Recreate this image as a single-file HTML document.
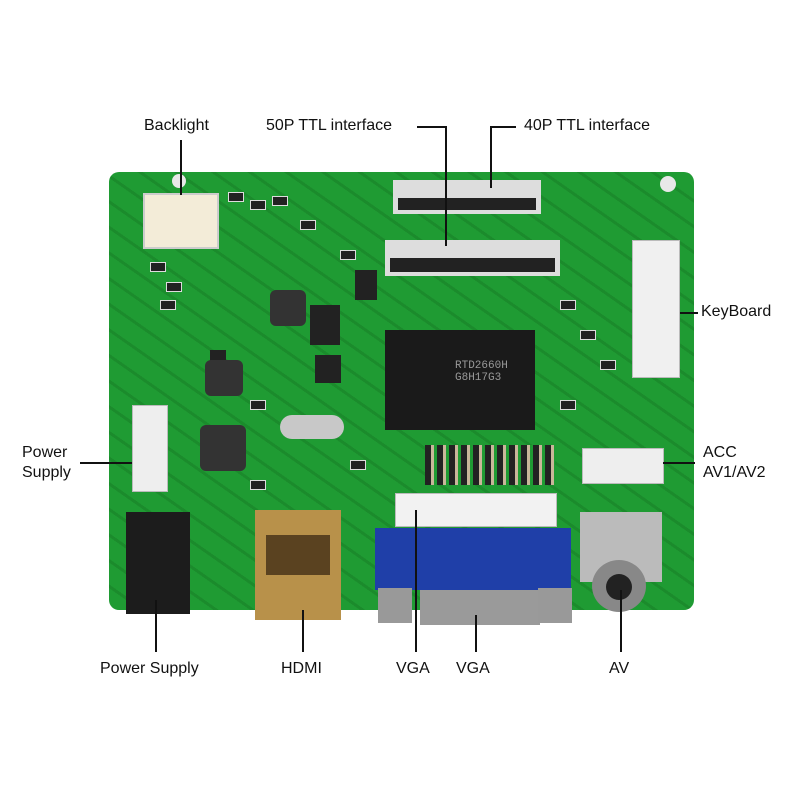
<!DOCTYPE html>
<html><head><meta charset="utf-8"><style>
body{margin:0;width:800px;height:800px;background:#fff;position:relative;overflow:hidden;font-family:"Liberation Sans",sans-serif;}
.a{position:absolute;}
.t{position:absolute;font-size:16px;color:#111;white-space:nowrap;}
.l{position:absolute;background:#111;}
.s{position:absolute;background:#222;border:1px solid #ddd;width:14px;height:8px;}
</style></head><body>
<div class="a" style="left:109px;top:172px;width:585px;height:438px;background:#1f9b33;border-radius:10px;"></div>
<div class="a" style="left:109px;top:172px;width:585px;height:438px;border-radius:10px;background:repeating-linear-gradient(35deg,transparent 0 18px,rgba(20,110,30,.35) 18px 21px);"></div>
<div class="a" style="left:172px;top:174px;width:14px;height:14px;border-radius:50%;background:#e8e8e8;"></div>
<div class="a" style="left:660px;top:176px;width:16px;height:16px;border-radius:50%;background:#e8e8e8;"></div>
<!-- small parts -->
<div class="s" style="left:228px;top:192px;"></div><div class="s" style="left:250px;top:200px;"></div>
<div class="s" style="left:272px;top:196px;"></div><div class="s" style="left:300px;top:220px;"></div>
<div class="s" style="left:150px;top:262px;"></div><div class="s" style="left:166px;top:282px;"></div>
<div class="s" style="left:160px;top:300px;"></div><div class="s" style="left:340px;top:250px;"></div>
<div class="s" style="left:360px;top:280px;"></div><div class="s" style="left:560px;top:300px;"></div>
<div class="s" style="left:580px;top:330px;"></div><div class="s" style="left:600px;top:360px;"></div>
<div class="s" style="left:560px;top:400px;"></div><div class="s" style="left:250px;top:480px;"></div>
<div class="s" style="left:350px;top:460px;"></div><div class="s" style="left:250px;top:400px;"></div>
<div class="a" style="left:425px;top:445px;width:130px;height:40px;background:repeating-linear-gradient(90deg,#222 0 6px,#c9b79a 6px 9px,#1f9b33 9px 12px);"></div>
<div class="a" style="left:355px;top:270px;width:22px;height:30px;background:#222;"></div>
<div class="a" style="left:210px;top:350px;width:16px;height:24px;background:#222;"></div>
<!-- backlight -->
<div class="a" style="left:143px;top:193px;width:72px;height:52px;background:#f3ecd8;border:2px solid #ccc;"></div>
<!-- 40P -->
<div class="a" style="left:393px;top:180px;width:148px;height:34px;background:#ddd;"></div>
<div class="a" style="left:398px;top:198px;width:138px;height:12px;background:#222;"></div>
<!-- 50P -->
<div class="a" style="left:385px;top:240px;width:175px;height:36px;background:#ddd;"></div>
<div class="a" style="left:390px;top:258px;width:165px;height:14px;background:#222;"></div>
<!-- chip -->
<div class="a" style="left:385px;top:330px;width:150px;height:100px;background:#1a1a1a;"></div>
<div class="a" style="left:455px;top:360px;font:11px 'Liberation Mono',monospace;color:#999;">RTD2660H<br>G8H17G3</div>
<!-- keyboard -->
<div class="a" style="left:632px;top:240px;width:46px;height:136px;background:#f0f0f0;border:1px solid #bbb;"></div>
<!-- power connector left -->
<div class="a" style="left:132px;top:405px;width:34px;height:85px;background:#eee;border:1px solid #bbb;"></div>
<!-- ACC -->
<div class="a" style="left:582px;top:448px;width:80px;height:34px;background:#eee;border:1px solid #bbb;"></div>
<!-- VGA header -->
<div class="a" style="left:395px;top:493px;width:160px;height:32px;background:#f2f2f2;border:1px solid #bbb;"></div>
<!-- inductors -->
<div class="a" style="left:270px;top:290px;width:36px;height:36px;background:#333;border-radius:6px;"></div>
<div class="a" style="left:205px;top:360px;width:38px;height:36px;background:#333;border-radius:6px;"></div>
<div class="a" style="left:200px;top:425px;width:46px;height:46px;background:#333;border-radius:6px;"></div>
<div class="a" style="left:310px;top:305px;width:30px;height:40px;background:#222;"></div>
<div class="a" style="left:315px;top:355px;width:26px;height:28px;background:#222;"></div>
<!-- crystal -->
<div class="a" style="left:280px;top:415px;width:64px;height:24px;background:#c8c8c8;border-radius:12px;"></div>
<!-- power jack -->
<div class="a" style="left:126px;top:512px;width:64px;height:102px;background:#1c1c1c;"></div>
<!-- HDMI -->
<div class="a" style="left:255px;top:510px;width:86px;height:110px;background:#b8914a;"></div>
<div class="a" style="left:266px;top:535px;width:64px;height:40px;background:#5a4220;"></div>
<!-- VGA -->
<div class="a" style="left:420px;top:580px;width:120px;height:45px;background:#9a9a9a;"></div>
<div class="a" style="left:375px;top:528px;width:196px;height:62px;background:#1f3fa8;"></div>
<div class="a" style="left:378px;top:588px;width:34px;height:35px;background:#999;"></div>
<div class="a" style="left:538px;top:588px;width:34px;height:35px;background:#999;"></div>
<!-- AV -->
<div class="a" style="left:580px;top:512px;width:82px;height:70px;background:#bbb;"></div>
<div class="a" style="left:592px;top:560px;width:54px;height:52px;background:#888;border-radius:50%;"></div>
<div class="a" style="left:606px;top:574px;width:26px;height:26px;background:#222;border-radius:50%;"></div>
<!-- labels -->
<div class="t" style="left:144px;top:117px;">Backlight</div>
<div class="t" style="left:266px;top:117px;">50P TTL interface</div>
<div class="t" style="left:524px;top:117px;">40P TTL interface</div>
<div class="t" style="left:701px;top:303px;">KeyBoard</div>
<div class="t" style="left:22px;top:443px;line-height:20px;">Power<br>Supply</div>
<div class="t" style="left:703px;top:443px;line-height:20px;">ACC<br>AV1/AV2</div>
<div class="t" style="left:100px;top:660px;">Power Supply</div>
<div class="t" style="left:281px;top:660px;">HDMI</div>
<div class="t" style="left:396px;top:660px;">VGA</div>
<div class="t" style="left:456px;top:660px;">VGA</div>
<div class="t" style="left:609px;top:660px;">AV</div>
<!-- lines -->
<div class="l" style="left:180px;top:140px;width:2px;height:55px;"></div>
<div class="l" style="left:417px;top:126px;width:30px;height:2px;"></div>
<div class="l" style="left:445px;top:126px;width:2px;height:120px;"></div>
<div class="l" style="left:490px;top:126px;width:26px;height:2px;"></div>
<div class="l" style="left:490px;top:126px;width:2px;height:62px;"></div>
<div class="l" style="left:680px;top:312px;width:18px;height:2px;"></div>
<div class="l" style="left:80px;top:462px;width:52px;height:2px;"></div>
<div class="l" style="left:663px;top:462px;width:32px;height:2px;"></div>
<div class="l" style="left:155px;top:600px;width:2px;height:52px;"></div>
<div class="l" style="left:302px;top:610px;width:2px;height:42px;"></div>
<div class="l" style="left:415px;top:510px;width:2px;height:142px;"></div>
<div class="l" style="left:475px;top:615px;width:2px;height:37px;"></div>
<div class="l" style="left:620px;top:590px;width:2px;height:62px;"></div>
</body></html>
